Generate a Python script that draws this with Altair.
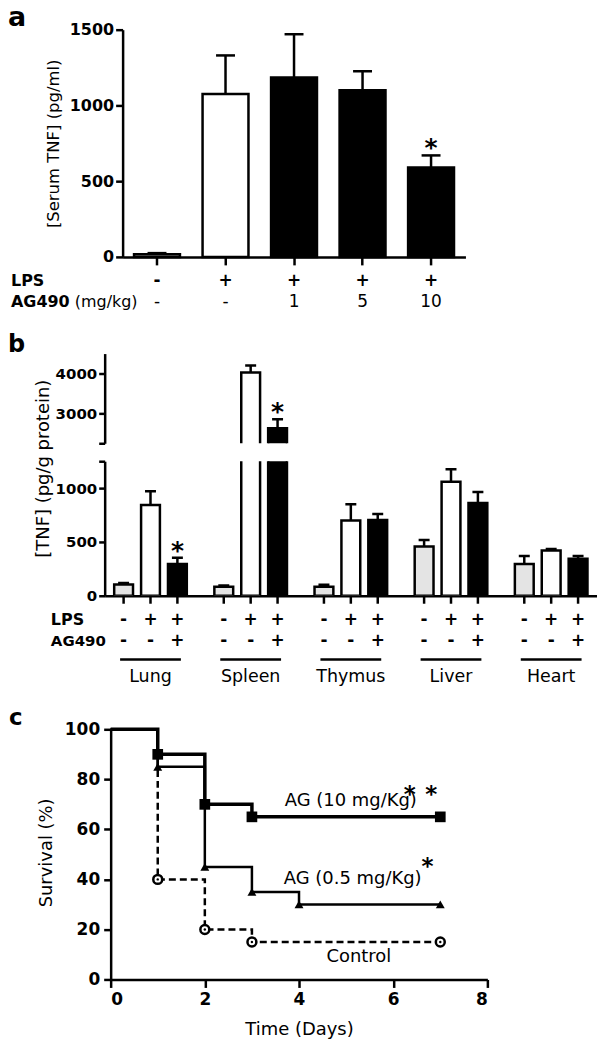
import altair as alt
import pandas as pd

FONT = "DejaVu Sans"

# ---------------- Panel a data ----------------
a_group = ["G1", "G2", "G3", "G4", "G5"]
a_lps = ["-", "+", "+", "+", "+"]
a_ag490 = ["-", "-", "1", "5", "10"]
a_mean = [18, 1075, 1185, 1100, 590]
a_sem = [7, 255, 285, 125, 80]
a_fill = ["white", "white", "black", "black", "black"]
a_star = ["", "", "", "", "*"]
a_row_labels = ["LPS", "AG490", "(mg/kg)"]

# ---------------- Panel b data ----------------
b_organs = ["Lung", "Spleen", "Thymus", "Liver", "Heart"]
b_conds = ["ctrl", "lps", "lps_ag"]
b_cond_lps = ["-", "+", "+"]
b_cond_ag = ["-", "-", "+"]
b_cond_fill = ["#e4e4e4", "white", "black"]
b_mean_ctrl = [105, 83, 83, 458, 296]
b_sem_ctrl = [13, 12, 19, 61, 74]
b_mean_lps = [843, 4025, 700, 1060, 420]
b_sem_lps = [129, 175, 150, 116, 15]
b_mean_lpsag = [296, 2625, 704, 861, 343]
b_sem_lpsag = [56, 225, 55, 102, 27]
b_star_lpsag = ["*", "*", "", "", ""]
b_row_labels = ["LPS", "AG490"]

# ---------------- Panel c data ----------------
c_days_ag10 = [0, 1, 2, 3, 7]
c_surv_ag10 = [100, 90, 70, 65, 65]
c_days_ag05 = [0, 1, 2, 3, 4, 7]
c_surv_ag05 = [100, 85, 45, 35, 30, 30]
c_days_ctrl = [0, 1, 2, 3, 7]
c_surv_ctrl = [100, 40, 20, 15, 15]
c_label_text = ["AG (10 mg/Kg)", "AG (0.5 mg/Kg)", "Control"]
c_label_x = [5.10, 5.14, 5.27]
c_label_y = [71.3, 40.2, 8.8]
c_star_x = [6.35, 6.81, 6.73]
c_star_y = [71.0, 71.0, 42.0]

AX = dict(tickWidth=2.5, domainWidth=2.5)

# ---------------- Panel a ----------------
SH_A = 18                      # plot shift to the right of panel b
W_A, H_A = 344, 228
dfa = pd.DataFrame(dict(grp=a_group, lps=a_lps, ag=a_ag490, mean=a_mean,
                        sem=a_sem, fill=a_fill, star=a_star))
dfa["top"] = dfa["mean"] + dfa["sem"]

xa = alt.X("grp:N", sort=a_group, title=None,
           scale=alt.Scale(paddingInner=0.33, paddingOuter=0.167,
                           range=[SH_A, SH_A + W_A]),
           axis=alt.Axis(labels=False, ticks=True, tickSize=8, **AX))
ya_scale = alt.Scale(domain=[0, 1500], nice=False)
ya_axis = alt.Axis(values=[0, 500, 1000, 1500], format="d",
                   title="[Serum TNF]  (pg/ml)", offset=-SH_A,
                   titleFontSize=16.5, titleFontWeight="normal",
                   labelFontSize=16, labelFontWeight="bold", tickSize=7,
                   labelPadding=2, titleX=-69, titleBaseline="middle", **AX)

base_a = alt.Chart(dfa)
bars_a = base_a.mark_bar(stroke="black", strokeWidth=2.5).encode(
    x=xa, y=alt.Y("mean:Q", scale=ya_scale, axis=ya_axis),
    fill=alt.Fill("fill:N", scale=None))
err_a = base_a.mark_rule(color="black", strokeWidth=2.5).encode(
    x=xa, y=alt.Y("mean:Q", scale=ya_scale), y2="top:Q")
cap_a = base_a.mark_tick(color="black", thickness=2.5, size=19, opacity=1,
                         orient="horizontal").encode(
    x=xa, y=alt.Y("top:Q", scale=ya_scale))
star_a = base_a.mark_text(fontSize=25, fontWeight="bold", baseline="alphabetic",
                          dy=1).encode(
    x=xa, y=alt.Y("top:Q", scale=ya_scale), text="star:N")
row1_a = base_a.mark_text(fontSize=17, fontWeight="bold").encode(
    x=xa, y=alt.value(H_A + 24), text="lps:N")
row2_a = base_a.mark_text(fontSize=17).encode(
    x=xa, y=alt.value(H_A + 45), text="ag:N")

lab_a = pd.DataFrame({"t": a_row_labels})
lab1_a = alt.Chart(lab_a).transform_filter("datum.t == 'LPS'").mark_text(
    fontSize=16, fontWeight="bold", align="left").encode(
    x=alt.value(-94), y=alt.value(H_A + 24), text="t:N")
lab2_a = alt.Chart(lab_a).transform_filter("datum.t == 'AG490'").mark_text(
    fontSize=16, fontWeight="bold", align="left").encode(
    x=alt.value(-94), y=alt.value(H_A + 45), text="t:N")
lab3_a = alt.Chart(lab_a).transform_filter("datum.t == '(mg/kg)'").mark_text(
    fontSize=16, align="left").encode(
    x=alt.value(-30), y=alt.value(H_A + 45), text="t:N")
letter_a = alt.Chart(pd.DataFrame({"t": ["a"]})).mark_text(
    fontSize=27, fontWeight="bold", align="left", baseline="alphabetic").encode(
    x=alt.value(-97), y=alt.value(-4), text="t:N")

panel_a = alt.layer(bars_a, err_a, cap_a, star_a, row1_a, row2_a,
                    lab1_a, lab2_a, lab3_a, letter_a).properties(
    width=SH_A + W_A, height=H_A)

# ---------------- Panel b ----------------
W_B, H_BU, EX_BU, H_BL = 494, 90, 79, 135
rows = []
for i, org in enumerate(b_organs):
    for j, cond in enumerate(b_conds):
        mean = [b_mean_ctrl, b_mean_lps, b_mean_lpsag][j][i]
        sem = [b_sem_ctrl, b_sem_lps, b_sem_lpsag][j][i]
        star = b_star_lpsag[i] if j == 2 else ""
        rows.append(dict(organ=org, cond=cond, mean=mean, top=mean + sem,
                         fill=b_cond_fill[j], lps=b_cond_lps[j],
                         ag=b_cond_ag[j], star=star))
dfb = pd.DataFrame(rows)

xb_scale = alt.Scale(paddingInner=0.275, paddingOuter=0.095)
xob = alt.XOffset("cond:N", sort=b_conds,
                  scale=alt.Scale(paddingInner=0.3, paddingOuter=0))
xb_up = alt.X("organ:N", sort=b_organs, title=None, scale=xb_scale, axis=None)
xb_lo = alt.X("organ:N", sort=b_organs, title=None, scale=xb_scale,
              axis=alt.Axis(labels=False, ticks=False, domainWidth=2.5))

yu_scale = alt.Scale(domain=[2250, 4500], nice=False,
                     range=[EX_BU + H_BU, EX_BU])
yu_axis = alt.Axis(values=[2250, 3000, 4000], title=None,
                   labelExpr="datum.value == 2250 ? '' : format(datum.value, 'd')",
                   labelFontSize=15, labelFontWeight="bold", tickSize=6,
                   labelPadding=2, **AX)
yl_scale = alt.Scale(domain=[0, 1250], nice=False)
yl_axis = alt.Axis(values=[0, 500, 1000, 1250], title="[TNF] (pg/g protein)",
                   labelExpr="datum.value == 1250 ? '' : format(datum.value, 'd')",
                   labelFontSize=15, labelFontWeight="bold", tickSize=6,
                   labelPadding=2,
                   titleFontSize=18, titleFontWeight="normal",
                   titleX=-61, titleY=7, titleBaseline="middle", **AX)


def b_layers(xenc, yscale, yaxis):
    base = alt.Chart(dfb)
    bars = base.mark_bar(stroke="black", strokeWidth=2.5, clip=True).encode(
        x=xenc, xOffset=xob, y=alt.Y("mean:Q", scale=yscale, axis=yaxis),
        fill=alt.Fill("fill:N", scale=None))
    err = base.mark_rule(color="black", strokeWidth=2.5, clip=True).encode(
        x=xenc, xOffset=xob, y=alt.Y("mean:Q", scale=yscale), y2="top:Q")
    cap = base.mark_tick(color="black", thickness=2.5, size=11, opacity=1,
                         orient="horizontal", clip=True).encode(
        x=xenc, xOffset=xob, y=alt.Y("top:Q", scale=yscale))
    star = base.mark_text(fontSize=25, fontWeight="bold", baseline="alphabetic",
                          dy=1, clip=True).encode(
        x=xenc, xOffset=xob, y=alt.Y("top:Q", scale=yscale), text="star:N")
    return [bars, err, cap, star]


letter_b = alt.Chart(pd.DataFrame({"t": ["b"]})).mark_text(
    fontSize=24, fontWeight="bold", align="left", baseline="alphabetic").encode(
    x=alt.value(-97), y=alt.value(EX_BU - 2), text="t:N")
b_upper = alt.layer(*b_layers(xb_up, yu_scale, yu_axis), letter_b).properties(
    width=W_B, height=EX_BU + H_BU)

base_b = alt.Chart(dfb)
xticks_b = base_b.mark_rule(color="black", strokeWidth=2.5).encode(
    x=xb_lo, xOffset=xob, y=alt.value(H_BL), y2=alt.value(H_BL + 8))
row1_b = base_b.mark_text(fontSize=17, fontWeight="bold").encode(
    x=xb_lo, xOffset=xob, y=alt.value(H_BL + 24), text="lps:N")
row2_b = base_b.mark_text(fontSize=17, fontWeight="bold").encode(
    x=xb_lo, xOffset=xob, y=alt.value(H_BL + 45), text="ag:N")
lab_b = pd.DataFrame({"t": b_row_labels})
lab1_b = alt.Chart(lab_b).transform_filter("datum.t == 'LPS'").mark_text(
    fontSize=16, fontWeight="bold", align="left").encode(
    x=alt.value(-54), y=alt.value(H_BL + 24), text="t:N")
lab2_b = alt.Chart(lab_b).transform_filter("datum.t == 'AG490'").mark_text(
    fontSize=15, fontWeight="bold", align="left").encode(
    x=alt.value(-54), y=alt.value(H_BL + 45), text="t:N")
df_org = pd.DataFrame({"organ": b_organs})
under_b = alt.Chart(df_org).mark_tick(color="black", thickness=2.5, size=61,
                                      opacity=1, orient="horizontal").encode(
    x=xb_lo, y=alt.value(H_BL + 64))
org_b = alt.Chart(df_org).mark_text(fontSize=17.5).encode(
    x=xb_lo, y=alt.value(H_BL + 82), text="organ:N")

b_lower = alt.layer(*b_layers(xb_lo, yl_scale, yl_axis), xticks_b, row1_b,
                    row2_b, lab1_b, lab2_b, under_b, org_b).properties(
    width=W_B, height=H_BL)

# ---------------- Panel c ----------------
SH_C, EX_C = 6, 116
W_C, H_C = 378, 251
dfc = pd.concat([
    pd.DataFrame({"series": "ag10", "day": c_days_ag10, "surv": c_surv_ag10}),
    pd.DataFrame({"series": "ag05", "day": c_days_ag05, "surv": c_surv_ag05}),
    pd.DataFrame({"series": "ctrl", "day": c_days_ctrl, "surv": c_surv_ctrl}),
], ignore_index=True)

xc = alt.X("day:Q", scale=alt.Scale(domain=[0, 8], nice=False,
                                    range=[SH_C, SH_C + W_C]),
           axis=alt.Axis(values=[0, 2, 4, 6, 8], title="Time (Days)",
                         labelFontSize=17, labelFontWeight="bold", tickSize=8,
                         labelPadding=4,
                         titleFontSize=18, titleFontWeight="normal",
                         titleY=50, titleBaseline="middle", **AX))
yc = alt.Y("surv:Q", scale=alt.Scale(domain=[0, 100], nice=False,
                                     range=[EX_C + H_C, EX_C]),
           axis=alt.Axis(values=[0, 20, 40, 60, 80, 100], title="Survival (%)",
                         offset=-SH_C,
                         labelFontSize=17, labelFontWeight="bold", tickSize=7,
                         labelPadding=4,
                         titleFontSize=18, titleFontWeight="normal",
                         titleX=-64, titleY=EX_C + H_C / 2 - 2,
                         titleBaseline="middle", **AX))

base_c = alt.Chart(dfc)
line_ctrl = base_c.transform_filter("datum.series == 'ctrl'").mark_line(
    interpolate="step-after", color="black", strokeWidth=2.5,
    strokeDash=[7, 4]).encode(x=xc, y=yc)
line_ag05 = base_c.transform_filter("datum.series == 'ag05'").mark_line(
    interpolate="step-after", color="black", strokeWidth=2.5).encode(x=xc, y=yc)
line_ag10 = base_c.transform_filter("datum.series == 'ag10'").mark_line(
    interpolate="step-after", color="black", strokeWidth=3.5).encode(x=xc, y=yc)
pt_ctrl = base_c.transform_filter("datum.series == 'ctrl' && datum.day > 0").mark_point(
    shape="circle", size=80, filled=False, fill="white", fillOpacity=1,
    color="black", strokeWidth=2.5, opacity=1).encode(x=xc, y=yc)
pt_ctrl_dot = base_c.transform_filter("datum.series == 'ctrl' && datum.day > 0").mark_point(
    shape="circle", size=6, filled=True, color="black", opacity=1).encode(x=xc, y=yc)
pt_ag05 = base_c.transform_filter("datum.series == 'ag05' && datum.day > 0").mark_point(
    shape="triangle-up", size=80, filled=True, color="black", opacity=1).encode(x=xc, y=yc)
pt_ag10 = base_c.transform_filter("datum.series == 'ag10' && datum.day > 0").mark_point(
    shape="square", size=115, filled=True, color="black", opacity=1).encode(x=xc, y=yc)

dlab = pd.DataFrame({"t": c_label_text, "day": c_label_x, "surv": c_label_y})
labels_c = alt.Chart(dlab).mark_text(fontSize=18, baseline="middle").encode(
    x=xc, y=yc, text="t:N")
dstar = pd.DataFrame({"day": c_star_x, "surv": c_star_y, "t": ["*"] * len(c_star_x)})
stars_c = alt.Chart(dstar).mark_text(fontSize=23, fontWeight="bold",
                                     baseline="alphabetic").encode(
    x=xc, y=yc, text="t:N")
letter_c = alt.Chart(pd.DataFrame({"t": ["c"]})).mark_text(
    fontSize=23, fontWeight="bold", align="left", baseline="alphabetic").encode(
    x=alt.value(-96), y=alt.value(EX_C - 4), text="t:N")

panel_c = alt.layer(line_ctrl, line_ag05, line_ag10, pt_ctrl, pt_ctrl_dot,
                    pt_ag05, pt_ag10, labels_c, stars_c, letter_c).properties(
    width=SH_C + W_C, height=EX_C + H_C)

chart = alt.vconcat(panel_a, b_upper, b_lower, panel_c, spacing=18,
                    bounds="flush").properties(
    padding={"top": -6, "left": 0, "right": 0, "bottom": 0}
).configure(font=FONT).configure_view(stroke=None).configure_axis(
    grid=False, domainColor="black", tickColor="black", labelColor="black",
    titleColor="black", labelFont=FONT, titleFont=FONT)

chart.save("out.html", embed_options={"renderer": "svg", "actions": False})
